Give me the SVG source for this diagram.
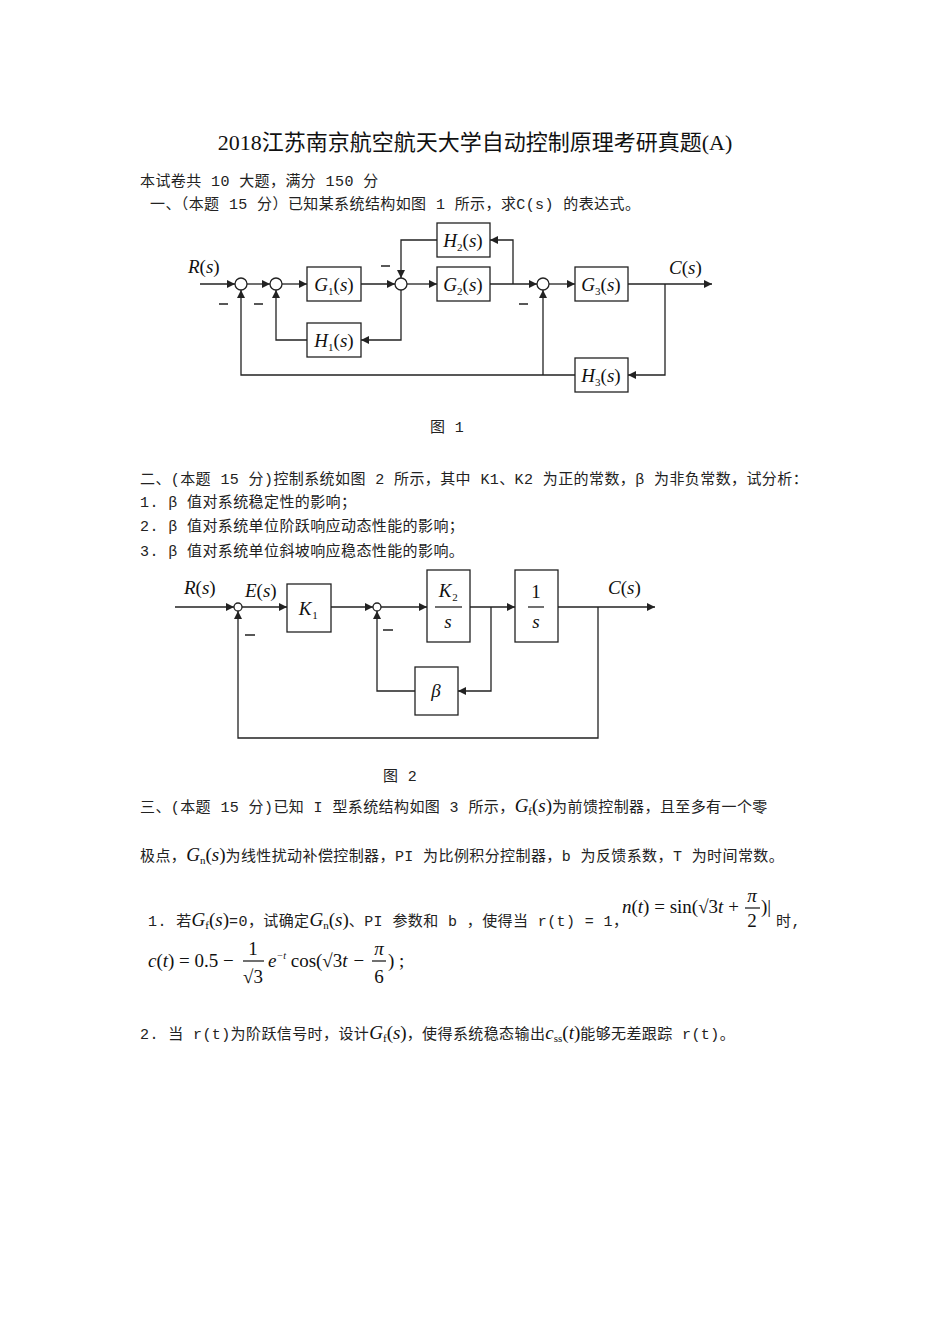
<svg xmlns="http://www.w3.org/2000/svg" width="950" height="1344" viewBox="0 0 950 1344">
<style>
.t{font-family:"Liberation Mono","Noto Sans CJK SC",monospace;font-size:15px;letter-spacing:0.4px;fill:#222}
.ti{font-family:"Liberation Serif","Noto Sans CJK SC",serif;font-size:22px;fill:#111}
.m{font-family:"Liberation Serif",serif;font-style:italic;font-size:19px;fill:#111;letter-spacing:0}
.mn{font-family:"Liberation Serif",serif;font-size:19px;fill:#111}
.sub{font-size:11px;font-style:normal}
.b{fill:#fff;stroke:#222;stroke-width:1.3}
.w{fill:none;stroke:#222;stroke-width:1.3}
.c{fill:#fff;stroke:#222;stroke-width:1.3}
</style>
<defs><marker id="a" viewBox="0 0 10 10" refX="10" refY="5" markerWidth="8" markerHeight="8" orient="auto" markerUnits="userSpaceOnUse"><path d="M0,0L10,5L0,10z" fill="#222"/></marker></defs>
<rect width="950" height="1344" fill="#fff"/>
<text class="ti" x="475" y="150" text-anchor="middle">2018江苏南京航空航天大学自动控制原理考研真题(A)</text>
<text class="t" x="140" y="186">本试卷共 10 大题，满分 150 分</text>
<text class="t" x="150" y="209">一、（本题 15 分）已知某系统结构如图 1 所示，求C(s) 的表达式。</text>

<g id="fig1">
<g id="connectors1">
<path class="w" d="M200,284H235" marker-end="url(#a)"/>
<path class="w" d="M247,284H270" marker-end="url(#a)"/>
<path class="w" d="M282,284H307" marker-end="url(#a)"/>
<path class="w" d="M361,284H395" marker-end="url(#a)"/>
<path class="w" d="M407,284H437" marker-end="url(#a)"/>
<path class="w" d="M490,284H537" marker-end="url(#a)"/>
<path class="w" d="M549,284H575" marker-end="url(#a)"/>
<path class="w" d="M628,284H712" marker-end="url(#a)"/>
<path class="w" d="M513,284V240H490" marker-end="url(#a)"/>
<path class="w" d="M437,240H401V278" marker-end="url(#a)"/>
<path class="w" d="M401,290V340H361" marker-end="url(#a)"/>
<path class="w" d="M307,340H276V290" marker-end="url(#a)"/>
<path class="w" d="M665,284V375H628" marker-end="url(#a)"/>
<path class="w" d="M575,375H241V290" marker-end="url(#a)"/>
<path class="w" d="M543,375V290" marker-end="url(#a)"/>
</g>
<g id="s1"><circle class="c" cx="241" cy="284" r="6"/></g>
<g id="s2"><circle class="c" cx="276" cy="284" r="6"/></g>
<g id="s3"><circle class="c" cx="401" cy="284" r="6"/></g>
<g id="s4"><circle class="c" cx="543" cy="284" r="6"/></g>
<g id="G1"><rect class="b" x="307" y="267" width="54" height="34"/><text class="m" x="334" y="291" text-anchor="middle">G<tspan class="sub" dy="4">1</tspan><tspan dy="-4" font-style="normal">(</tspan>s<tspan font-style="normal">)</tspan></text></g>
<g id="G2"><rect class="b" x="437" y="267" width="53" height="34"/><text class="m" x="463" y="291" text-anchor="middle">G<tspan class="sub" dy="4">2</tspan><tspan dy="-4" font-style="normal">(</tspan>s<tspan font-style="normal">)</tspan></text></g>
<g id="G3"><rect class="b" x="575" y="267" width="53" height="34"/><text class="m" x="601" y="291" text-anchor="middle">G<tspan class="sub" dy="4">3</tspan><tspan dy="-4" font-style="normal">(</tspan>s<tspan font-style="normal">)</tspan></text></g>
<g id="H1"><rect class="b" x="307" y="323" width="54" height="34"/><text class="m" x="334" y="347" text-anchor="middle">H<tspan class="sub" dy="4">1</tspan><tspan dy="-4" font-style="normal">(</tspan>s<tspan font-style="normal">)</tspan></text></g>
<g id="H2"><rect class="b" x="437" y="223" width="53" height="34"/><text class="m" x="463" y="247" text-anchor="middle">H<tspan class="sub" dy="4">2</tspan><tspan dy="-4" font-style="normal">(</tspan>s<tspan font-style="normal">)</tspan></text></g>
<g id="H3"><rect class="b" x="575" y="358" width="53" height="34"/><text class="m" x="601" y="382" text-anchor="middle">H<tspan class="sub" dy="4">3</tspan><tspan dy="-4" font-style="normal">(</tspan>s<tspan font-style="normal">)</tspan></text></g>
<text class="m" x="188" y="273">R<tspan font-style="normal">(</tspan>s<tspan font-style="normal">)</tspan></text>
<text class="m" x="669" y="274">C<tspan font-style="normal">(</tspan>s<tspan font-style="normal">)</tspan></text>
<path class="w" d="M219,304h9M254,304h9M381,266h9M519,304h9"/>
</g>
<text class="t" x="430" y="432">图 1</text>

<text class="t" x="140" y="484">二、(本题 15 分)控制系统如图 2 所示，其中 K1、K2 为正的常数，β 为非负常数，试分析：</text>
<text class="t" x="140" y="507">1. β 值对系统稳定性的影响；</text>
<text class="t" x="140" y="531">2. β 值对系统单位阶跃响应动态性能的影响；</text>
<text class="t" x="140" y="556">3. β 值对系统单位斜坡响应稳态性能的影响。</text>

<g id="fig2">
<g id="connectors2">
<path class="w" d="M175,607H234" marker-end="url(#a)"/>
<path class="w" d="M242,607H287" marker-end="url(#a)"/>
<path class="w" d="M331,607H373" marker-end="url(#a)"/>
<path class="w" d="M381,607H427" marker-end="url(#a)"/>
<path class="w" d="M470,607H515" marker-end="url(#a)"/>
<path class="w" d="M558,607H655" marker-end="url(#a)"/>
<path class="w" d="M491,607V691H458" marker-end="url(#a)"/>
<path class="w" d="M415,691H377V611" marker-end="url(#a)"/>
<path class="w" d="M598,607V738H238V611" marker-end="url(#a)"/>
</g>
<g id="e1"><circle class="c" cx="238" cy="607" r="4"/></g>
<g id="e2"><circle class="c" cx="377" cy="607" r="4"/></g>
<g id="K1"><rect class="b" x="287" y="584" width="44" height="48"/><text class="m" x="305" y="615" text-anchor="middle">K</text><text class="mn" x="315" y="619" style="font-size:11px" text-anchor="middle">1</text></g>
<g id="K2"><rect class="b" x="427" y="570" width="43" height="72"/><text class="m" x="445" y="597" text-anchor="middle">K</text><text class="mn" x="455" y="601" style="font-size:11px" text-anchor="middle">2</text><line class="w" x1="435" y1="607" x2="462" y2="607"/><text class="m" x="448" y="628" text-anchor="middle">s</text></g>
<g id="I"><rect class="b" x="515" y="570" width="43" height="72"/><text class="mn" x="536" y="598" text-anchor="middle">1</text><line class="w" x1="528" y1="607" x2="544" y2="607"/><text class="m" x="536" y="628" text-anchor="middle">s</text></g>
<g id="B"><rect class="b" x="415" y="667" width="43" height="48"/><text class="m" x="436" y="697" text-anchor="middle">β</text></g>
<text class="m" x="184" y="594">R<tspan font-style="normal">(</tspan>s<tspan font-style="normal">)</tspan></text>
<text class="m" x="245" y="597">E<tspan font-style="normal">(</tspan>s<tspan font-style="normal">)</tspan></text>
<text class="m" x="608" y="594">C<tspan font-style="normal">(</tspan>s<tspan font-style="normal">)</tspan></text>
<path class="w" d="M245,635h10M383,630h10"/>
</g>
<text class="t" x="383" y="781">图 2</text>

<text class="t" x="140" y="812">三、(本题 15 分)已知 I 型系统结构如图 3 所示，<tspan class="m">G<tspan class="sub" dy="3">f</tspan><tspan dy="-3" font-style="normal">(</tspan>s<tspan font-style="normal">)</tspan></tspan>为前馈控制器，且至多有一个零</text>
<text class="t" x="140" y="861">极点，<tspan class="m">G<tspan class="sub" dy="3">n</tspan><tspan dy="-3" font-style="normal">(</tspan>s<tspan font-style="normal">)</tspan></tspan>为线性扰动补偿控制器，PI 为比例积分控制器，b 为反馈系数，T 为时间常数。</text>
<text class="t" x="148" y="926">1. 若<tspan class="m">G<tspan class="sub" dy="3">f</tspan><tspan dy="-3" font-style="normal">(</tspan>s<tspan font-style="normal">)</tspan></tspan>=0，试确定<tspan class="m">G<tspan class="sub" dy="3">n</tspan><tspan dy="-3" font-style="normal">(</tspan>s<tspan font-style="normal">)</tspan></tspan>、PI 参数和 b ，使得当 r(t) = 1，</text>
<text class="mn" x="622" y="913"><tspan font-style="italic">n</tspan>(<tspan font-style="italic">t</tspan>) = sin(√3<tspan font-style="italic">t</tspan> +</text>
<text class="m" x="752" y="902" text-anchor="middle">π</text><line class="w" x1="745" y1="908" x2="760" y2="908"/><text class="mn" x="752" y="927" text-anchor="middle">2</text>
<text class="mn" x="761" y="913">)|</text>
<text class="t" x="776" y="926">时,</text>
<text class="mn" x="148" y="967"><tspan font-style="italic">c</tspan>(<tspan font-style="italic">t</tspan>) = 0.5 −</text>
<text class="mn" x="253" y="955" text-anchor="middle">1</text><line class="w" x1="243" y1="961" x2="264" y2="961"/><text class="mn" x="253" y="983" text-anchor="middle">√3</text>
<text class="m" x="268" y="967">e<tspan font-size="10" dy="-8">−t</tspan><tspan dy="8" font-style="normal"> cos(√3</tspan>t −</text>
<text class="m" x="379" y="955" text-anchor="middle">π</text><line class="w" x1="372" y1="961" x2="386" y2="961"/><text class="mn" x="379" y="983" text-anchor="middle">6</text>
<text class="mn" x="388" y="967">) ;</text>
<text class="t" x="140" y="1039">2. 当 r(t)为阶跃信号时，设计<tspan class="m">G<tspan class="sub" dy="3">f</tspan><tspan dy="-3" font-style="normal">(</tspan>s<tspan font-style="normal">)</tspan></tspan>，使得系统稳态输出<tspan class="m">c<tspan class="sub" dy="3">ss</tspan><tspan dy="-3" font-style="normal">(</tspan>t<tspan font-style="normal">)</tspan></tspan>能够无差跟踪 r(t)。</text>
</svg>
